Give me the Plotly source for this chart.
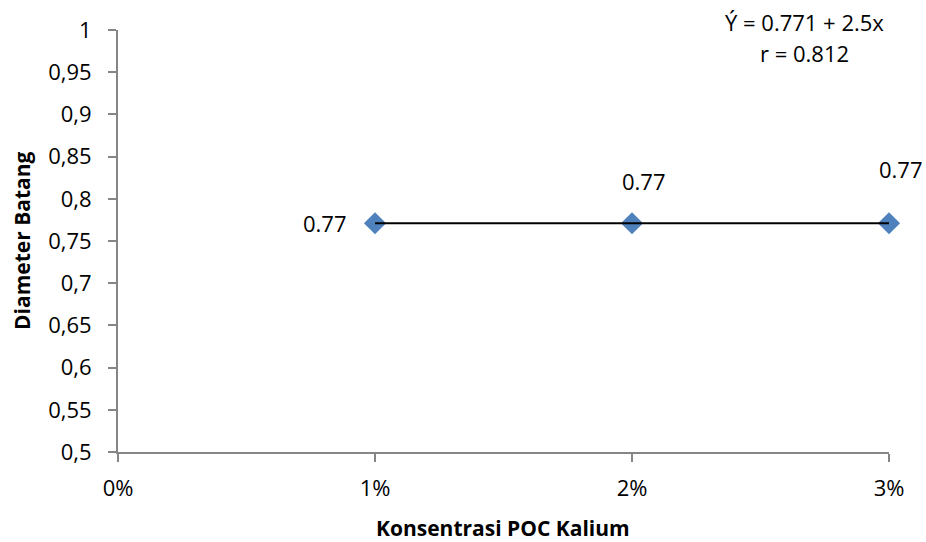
import plotly.graph_objects as go

x_vals = [0.01, 0.02, 0.03]
y_vals = [0.771, 0.771, 0.771]
point_labels = ["0.77", "0.77", "0.77"]
x_ticks = [0, 0.01, 0.02, 0.03]
x_ticktext = ["0%", "1%", "2%", "3%"]
y_ticks = [0.5, 0.55, 0.6, 0.65, 0.7, 0.75, 0.8, 0.85, 0.9, 0.95, 1.0]
y_ticktext = ["0,5", "0,55", "0,6", "0,65", "0,7", "0,75", "0,8", "0,85", "0,9", "0,95", "1"]
equation = "Ý = 0.771 + 2.5x"
r_text = "r = 0.812"

font = "Open Sans, Liberation Sans, sans-serif"
axis_col = "#868686"
fs = 22

fig = go.Figure()
fig.add_trace(go.Scatter(x=x_vals, y=y_vals, mode="markers",
                         marker=dict(symbol="diamond", size=17, color="#4F81BD"),
                         showlegend=False, cliponaxis=False))
fig.add_trace(go.Scatter(x=x_vals, y=y_vals, mode="lines",
                         line=dict(color="black", width=2), showlegend=False,
                         cliponaxis=False))

offsets = [(-50, 0), (12, -42), (12, -54)]
for xv, yv, t, (ax, ay) in zip(x_vals, y_vals, point_labels, offsets):
    fig.add_annotation(x=xv, y=yv, text=t, showarrow=False, xshift=ax, yshift=-ay,
                       font=dict(size=fs, color="black", family=font))

fig.add_annotation(xref="paper", yref="paper", x=0.890, y=1.019, text=equation,
                   showarrow=False, xanchor="center", yanchor="middle",
                   font=dict(size=fs, color="black", family=font))
fig.add_annotation(xref="paper", yref="paper", x=0.890, y=0.945, text=r_text,
                   showarrow=False, xanchor="center", yanchor="middle",
                   font=dict(size=fs, color="black", family=font))

fig.add_annotation(xref="paper", yref="paper", x=(503 - 118) / 771, y=(452 - 528) / 422,
                   text="<b>Konsentrasi POC Kalium</b>", showarrow=False,
                   xanchor="center", yanchor="middle",
                   font=dict(size=21, color="black", family=font))
fig.add_annotation(xref="paper", yref="paper", x=(22 - 118) / 771, y=(452 - 241) / 422,
                   text="<b>Diameter Batang</b>", showarrow=False, textangle=-90,
                   xanchor="center", yanchor="middle",
                   font=dict(size=21, color="black", family=font))

fig.update_layout(
    width=926, height=542,
    margin=dict(l=118, r=37, t=30, b=90, autoexpand=False),
    plot_bgcolor="white", paper_bgcolor="white",
    font=dict(family=font, size=fs, color="black"),
    hovermode=False,
    xaxis=dict(range=[0, 0.03], tickvals=x_ticks, ticktext=x_ticktext, automargin=False,
               showgrid=False, zeroline=False, showline=True, linecolor=axis_col,
               linewidth=2, ticks="outside", ticklen=8, tickcolor=axis_col, tickwidth=2,
               tickfont=dict(size=fs), ticklabelstandoff=8),
    yaxis=dict(range=[0.5, 1.0], tickvals=y_ticks, ticktext=y_ticktext, automargin=False,
               showgrid=False, zeroline=False, showline=True, linecolor=axis_col,
               linewidth=2, ticks="outside", ticklen=8, tickcolor=axis_col, tickwidth=2,
               tickfont=dict(size=fs), ticklabelstandoff=12),
)
fig.write_html("out.html", config={"displayModeBar": False},
               post_script="document.body.style.margin='0';document.body.style.overflow='hidden';")
